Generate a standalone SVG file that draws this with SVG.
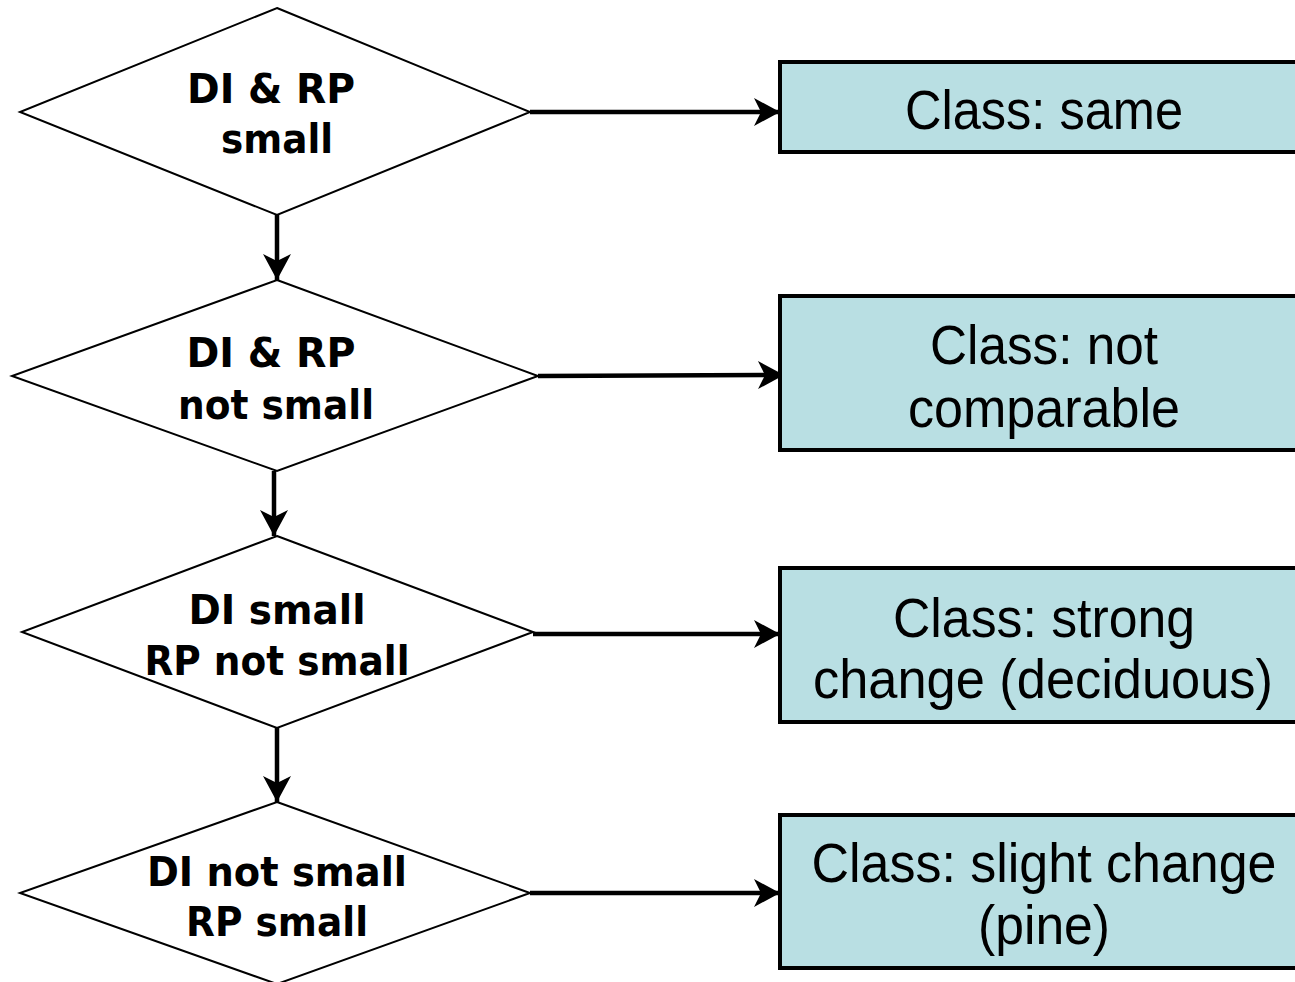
<svg xmlns="http://www.w3.org/2000/svg" width="1295" height="982" viewBox="0 0 1295 982">
<defs>
<style>
.dia{fill:#fff;stroke:#000;stroke-width:2}
.box{fill:#b9dfe3;stroke:#000;stroke-width:4}
.dt{font-family:"DejaVu Sans",Verdana,sans-serif;font-weight:bold;font-size:41px;fill:#000;text-anchor:middle}
.bt{font-family:"Liberation Sans",Arial,sans-serif;font-size:56px;fill:#000;text-anchor:middle}
.con{stroke:#000;stroke-width:4.5;fill:none;marker-end:url(#ah)}
</style>
<marker id="ah" markerUnits="userSpaceOnUse" markerWidth="30" markerHeight="32" refX="28" refY="16" orient="auto">
<path d="M28,16 L2,2 L9,16 L2,30 Z" fill="#000"/>
</marker>
</defs>
<rect width="1295" height="982" fill="#fff"/>
<g id="connectors">
<line class="con" x1="530" y1="112" x2="780" y2="112"/>
<line class="con" x1="538" y1="376" x2="784" y2="375"/>
<line class="con" x1="533" y1="634" x2="780" y2="634"/>
<line class="con" x1="530" y1="893" x2="780" y2="893"/>
<line class="con" x1="277" y1="215" x2="277" y2="280"/>
<line class="con" x1="274" y1="471" x2="274" y2="536"/>
<line class="con" x1="277" y1="728" x2="277" y2="802"/>
</g>
<g id="d1">
<polygon class="dia" points="277,8 530,112 277,215 20,112"/>
<text class="dt" x="271" y="103" textLength="168" lengthAdjust="spacingAndGlyphs">DI &amp; RP</text>
<text class="dt" x="277" y="153" textLength="112" lengthAdjust="spacingAndGlyphs">small</text>
</g>
<g id="d2">
<polygon class="dia" points="277,280 538,376 277,471 12,376"/>
<text class="dt" x="271" y="367" textLength="169" lengthAdjust="spacingAndGlyphs">DI &amp; RP</text>
<text class="dt" x="276" y="419" textLength="196" lengthAdjust="spacingAndGlyphs">not small</text>
</g>
<g id="d3">
<polygon class="dia" points="277,536 533,632 277,728 22,632"/>
<text class="dt" x="277" y="624" textLength="177" lengthAdjust="spacingAndGlyphs">DI small</text>
<text class="dt" x="277" y="675" textLength="265" lengthAdjust="spacingAndGlyphs">RP not small</text>
</g>
<g id="d4">
<polygon class="dia" points="277,802 530,893 277,984 20,893"/>
<text class="dt" x="277" y="886" textLength="260" lengthAdjust="spacingAndGlyphs">DI not small</text>
<text class="dt" x="277" y="936" textLength="182" lengthAdjust="spacingAndGlyphs">RP small</text>
</g>
<g id="b1">
<rect class="box" x="780" y="62" width="520" height="90"/>
<text class="bt" x="1044" y="129" textLength="278" lengthAdjust="spacingAndGlyphs">Class: same</text>
</g>
<g id="b2">
<rect class="box" x="780" y="296" width="520" height="154"/>
<text class="bt" x="1044" y="364" textLength="228" lengthAdjust="spacingAndGlyphs">Class: not</text>
<text class="bt" x="1044" y="427" textLength="272" lengthAdjust="spacingAndGlyphs">comparable</text>
</g>
<g id="b3">
<rect class="box" x="780" y="568" width="520" height="154"/>
<text class="bt" x="1044" y="637" textLength="302" lengthAdjust="spacingAndGlyphs">Class: strong</text>
<text class="bt" x="1043" y="698" textLength="460" lengthAdjust="spacingAndGlyphs">change (deciduous)</text>
</g>
<g id="b4">
<rect class="box" x="780" y="815" width="520" height="153"/>
<text class="bt" x="1044" y="882" textLength="465" lengthAdjust="spacingAndGlyphs">Class: slight change</text>
<text class="bt" x="1044" y="944" textLength="132" lengthAdjust="spacingAndGlyphs">(pine)</text>
</g>
</svg>
